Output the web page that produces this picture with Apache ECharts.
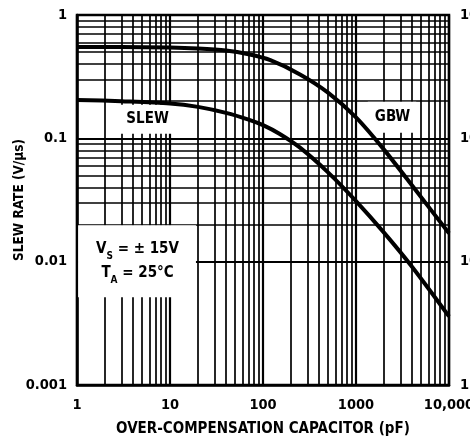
<!DOCTYPE html>
<html>
<head>
<meta charset="utf-8">
<script src="https://cdn.jsdelivr.net/npm/echarts@6/dist/echarts.min.js"></script>
<style>
  html, body { margin: 0; padding: 0; background: #fff; }
  #chart { width: 470px; height: 443px; }
</style>
</head>
<body>
<div id="chart"></div>
<script>
// Over-compensation capacitor (pF) vs slew rate / gain-bandwidth
const gbwCap   = [1, 3, 10, 20, 40, 70, 120, 250, 500, 1000, 2000, 4500, 10000];
const gbwVal   = [0.55, 0.55, 0.545, 0.535, 0.515, 0.48, 0.43, 0.33, 0.235, 0.148, 0.081, 0.037, 0.017];
const slewCap  = [1, 3, 10, 20, 40, 70, 100, 150, 250, 500, 1000, 2000, 4000, 10000];
const slewVal  = [0.205, 0.2, 0.192, 0.18, 0.161, 0.142, 0.128, 0.109, 0.084, 0.053, 0.031, 0.0172, 0.0091, 0.0036];

const xTickLabels     = ['1', '10', '100', '1000', '10,000'];
const yTickLabels     = ['0.001', '0.01', '0.1', '1'];
const rightTickLabels = ['1', '10', '100', '1000'];

const FONT = "'Liberation Sans Narrow', 'DejaVu Sans Condensed', 'Liberation Sans', sans-serif";

// log grid values: 1..9 per decade
function logGrid(startExp, endExp) {
  const out = [];
  for (let e = startExp; e < endExp; e++) {
    for (let m = 1; m <= 9; m++) out.push({ v: m * Math.pow(10, e), major: m === 1 });
  }
  out.push({ v: Math.pow(10, endExp), major: true });
  return out;
}
const xGrid = logGrid(0, 4);
const yGrid = logGrid(-3, 0);

const gridLines = [];
xGrid.forEach(g => gridLines.push({ xAxis: g.v, lineStyle: { width: g.major ? 2.2 : 1.7 } }));
yGrid.forEach(g => gridLines.push({ yAxis: g.v, lineStyle: { width: g.major ? 2.2 : 1.7 } }));

const decadeIndex = v => Math.round(Math.log10(v));

const chart = echarts.init(document.getElementById('chart'), null, { renderer: 'canvas' });
chart.setOption({
  animation: false,
  backgroundColor: '#fff',
  textStyle: { fontFamily: FONT, color: '#000', fontWeight: 'bold' },
  grid: {
    left: 77, right: 21, top: 15, bottom: 58,
    outerBoundsMode: 'none', containLabel: false,
    show: true, borderColor: '#000', borderWidth: 2.5, backgroundColor: '#fff'
  },
  xAxis: {
    type: 'log', logBase: 10, min: 1, max: 10000,
    name: 'OVER-COMPENSATION CAPACITOR (pF)', nameLocation: 'middle', nameGap: 37, nameMoveOverlap: false,
    nameTextStyle: { fontFamily: FONT, fontWeight: 'bold', fontSize: 15, color: '#000' },
    axisLine: { show: true, lineStyle: { color: '#000', width: 2.5 } },
    axisTick: { show: false }, splitLine: { show: false },
    axisLabel: {
      margin: 13, fontFamily: FONT, fontWeight: 'bold', fontSize: 14.5, color: '#000',
      hideOverlap: false, formatter: v => xTickLabels[decadeIndex(v)]
    }
  },
  yAxis: [{
    type: 'log', logBase: 10, min: 0.001, max: 1,
    name: 'SLEW RATE (V/μs)', nameLocation: 'middle', nameGap: 51, nameMoveOverlap: false,
    nameTextStyle: { fontFamily: FONT, fontWeight: 'bold', fontSize: 13.5, color: '#000' },
    axisLine: { show: true, lineStyle: { color: '#000', width: 2.5 } },
    axisTick: { show: false }, splitLine: { show: false },
    axisLabel: {
      margin: 10, fontFamily: FONT, fontWeight: 'bold', fontSize: 14.5, color: '#000',
      formatter: v => yTickLabels[decadeIndex(v) + 3]
    }
  }, {
    type: 'log', logBase: 10, min: 1, max: 1000, position: 'right',
    axisLine: { show: false }, axisTick: { show: false }, splitLine: { show: false },
    axisLabel: {
      margin: 11, fontFamily: FONT, fontWeight: 'bold', fontSize: 14.5, color: '#000',
      formatter: v => rightTickLabels[decadeIndex(v)]
    }
  }],
  series: [
    {
      type: 'line', data: [], z: 1, silent: true,
      markLine: {
        z: 1, silent: true, symbol: ['none', 'none'], animation: false,
        label: { show: false },
        lineStyle: { color: '#000', type: 'solid', width: 1.7 },
        emphasis: { disabled: true },
        data: gridLines
      }
    },
    {
      type: 'scatter', z: 3, symbolSize: 0, silent: true,
      itemStyle: { opacity: 1 },
      data: [
        { value: [5.6, 0.143], label: { formatter: 'SLEW', padding: [7, 4, 7, 6] } },
        { value: [2440, 0.148], label: { formatter: 'GBW', padding: [8, 6, 8, 7] } },
        { value: [4.42, 0.0101], label: {
            formatter: '{m|V}{s|S}{m| = ± 15V}\n{m|T}{s|A}{m| = 25°C}',
            padding: [12, 17, 12, 18], align: 'center'
          } }
      ],
      label: {
        show: true, position: 'inside', color: '#000', opacity: 1,
        fontFamily: FONT, fontWeight: 'bold', fontSize: 15,
        backgroundColor: '#fff',
        rich: {
          m: { fontFamily: FONT, fontWeight: 'bold', fontSize: 15, lineHeight: 24, color: '#000' },
          s: { fontFamily: FONT, fontWeight: 'bold', fontSize: 10, lineHeight: 14, verticalAlign: 'bottom', color: '#000' }
        }
      }
    },
    {
      name: 'GBW', type: 'line', z: 4, smooth: 0.3, showSymbol: false, silent: true,
      lineStyle: { color: '#000', width: 4 },
      data: gbwCap.map((c, i) => [c, gbwVal[i]])
    },
    {
      name: 'SLEW', type: 'line', z: 4, smooth: 0.3, showSymbol: false, silent: true,
      lineStyle: { color: '#000', width: 4 },
      data: slewCap.map((c, i) => [c, slewVal[i]])
    }
  ]
});
</script>
</body>
</html>
